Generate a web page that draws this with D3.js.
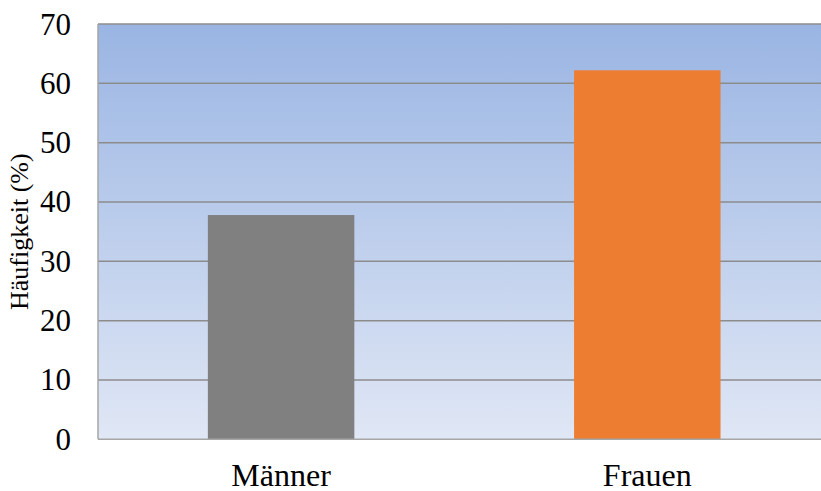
<!DOCTYPE html>
<html>
<head>
<meta charset="utf-8">
<script src="https://cdn.jsdelivr.net/npm/d3@7"></script>
<style>
html,body{margin:0;padding:0;background:#fff;}
svg{display:block;}
</style>
</head>
<body>
<div id="chart"></div>
<script>
const categories = ["Männer", "Frauen"];
const values = [37.8, 62.2];
const barColors = ["#808080", "#ed7d31"];
const yTicks = [0, 10, 20, 30, 40, 50, 60, 70];
const yLabel = "Häufigkeit (%)";

const FONT = "Liberation Serif";
const W = 821, H = 491;
const m = {left: 98, top: 24, right: -9.4, bottom: 51.7};
const svg = d3.select("#chart").append("svg").attr("width", W).attr("height", H);

const x = d3.scaleBand().domain(categories)
  .range([m.left, W - m.right]).paddingInner(0.6).paddingOuter(0.3);
const y = d3.scaleLinear().domain([0, 70]).range([H - m.bottom, m.top]);

const defs = svg.append("defs");
const grad = defs.append("linearGradient").attr("id", "bg").attr("x1", 0).attr("y1", 0).attr("x2", 0).attr("y2", 1);
grad.append("stop").attr("offset", "0%").attr("stop-color", "#9ab5e3");
grad.append("stop").attr("offset", "100%").attr("stop-color", "#e0e7f5");

svg.append("rect")
  .attr("x", m.left).attr("y", y(70))
  .attr("width", W - m.right - m.left).attr("height", y(0) - y(70))
  .attr("fill", "url(#bg)");

// gridlines
svg.append("g").selectAll("line").data(yTicks.filter(d => d > 0)).join("line")
  .attr("x1", m.left).attr("x2", W - m.right)
  .attr("y1", d => y(d)).attr("y2", d => y(d))
  .attr("stroke", "#8c8c8c").attr("stroke-width", 1.5);

// bars
svg.append("g").selectAll("rect").data(values).join("rect")
  .attr("x", (d, i) => x(categories[i]))
  .attr("width", x.bandwidth())
  .attr("y", d => y(d))
  .attr("height", d => y(0) - y(d))
  .attr("fill", (d, i) => barColors[i]);

// axes lines
svg.append("line").attr("x1", m.left).attr("x2", m.left).attr("y1", y(70)).attr("y2", y(0))
  .attr("stroke", "#a6a6a6").attr("stroke-width", 1.5);
svg.append("line").attr("x1", m.left).attr("x2", W - m.right).attr("y1", y(0)).attr("y2", y(0))
  .attr("stroke", "#a6a6a6").attr("stroke-width", 1.5);

// y tick labels
svg.selectAll("text.ytick").data(yTicks).join("text")
  .attr("class", "ytick")
  .attr("x", m.left - 27)
  .attr("y", d => y(d) + 10.5)
  .attr("text-anchor", "end")
  .attr("font-family", FONT).attr("font-size", 31)
  .attr("fill", "#000")
  .text(d => d);

// x labels
svg.selectAll("text.xlab").data(categories).join("text")
  .attr("class", "xlab")
  .attr("x", d => x(d) + x.bandwidth() / 2)
  .attr("y", y(0) + 46.5)
  .attr("text-anchor", "middle")
  .attr("font-family", FONT).attr("font-size", 32)
  .attr("fill", "#000")
  .text(d => d);

// y label
svg.append("text")
  .attr("transform", `translate(28,${y(35)}) rotate(-90)`)
  .attr("text-anchor", "middle")
  .attr("font-family", FONT).attr("font-size", 26)
  .attr("fill", "#000")
  .text(yLabel);
</script>
</body>
</html>
